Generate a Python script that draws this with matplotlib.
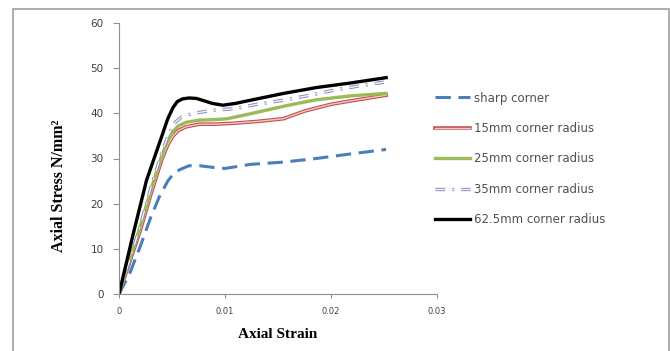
import numpy as np
import matplotlib
matplotlib.use("Agg")
import matplotlib.pyplot as plt
import matplotlib.patheffects as pe
from matplotlib.patches import Rectangle

# data (strain, stress N/mm2)
sharp_x = [0, 0.0010, 0.0020, 0.0030, 0.0038, 0.0046, 0.0052, 0.0058, 0.0066, 0.0076, 0.0090, 0.0100,
           0.0124, 0.0155, 0.0186, 0.0218, 0.0252]
sharp_y = [0, 4.5, 10.5, 17.0, 21.5, 25.0, 26.8, 27.6, 28.4, 28.4, 28.0, 27.8,
           28.7, 29.2, 30.0, 31.0, 32.0]

r15_x = [0, 0.0010, 0.0020, 0.0030, 0.0040, 0.0046, 0.0051, 0.0056, 0.0063, 0.0076, 0.0090, 0.0108,
         0.0130, 0.0155, 0.0175, 0.0200, 0.0225, 0.0252]
r15_y = [0, 7.0, 14.0, 22.0, 29.5, 33.0, 35.0, 36.2, 37.0, 37.6, 37.6, 37.8,
         38.2, 38.8, 40.5, 42.0, 43.0, 44.0]

r25_x = [0, 0.0010, 0.0020, 0.0030, 0.0040, 0.0046, 0.0051, 0.0056, 0.0063, 0.0076, 0.0090, 0.0102,
         0.0120, 0.0139, 0.0160, 0.0186, 0.0220, 0.0252]
r25_y = [0, 7.5, 14.9, 23.0, 30.4, 34.0, 36.0, 37.2, 38.0, 38.5, 38.6, 38.8,
         39.7, 40.7, 41.8, 43.0, 43.9, 44.4]

r35_x = [0, 0.0010, 0.0020, 0.0030, 0.0040, 0.0047, 0.0053, 0.0059, 0.0070, 0.0089, 0.0108, 0.0130,
         0.0155, 0.0180, 0.0202, 0.0225, 0.0250]
r35_y = [0, 7.5, 15.0, 23.5, 31.0, 35.5, 38.0, 39.2, 40.0, 40.7, 41.0, 42.0,
         42.9, 44.0, 45.1, 46.0, 46.9]

r62_x = [0, 0.00135, 0.0026, 0.0039, 0.0046, 0.0051, 0.0055, 0.0060, 0.0066, 0.0073, 0.0080, 0.0088,
         0.0098, 0.0110, 0.0124, 0.0155, 0.0186, 0.0218, 0.0252]
r62_y = [0, 13.4, 25.2, 34.0, 38.8, 41.3, 42.6, 43.2, 43.4, 43.3, 42.8, 42.2,
         41.8, 42.2, 42.9, 44.4, 45.7, 46.7, 47.9]

labels = ["sharp corner", "15mm corner radius", "25mm corner radius",
          "35mm corner radius", "62.5mm corner radius"]

fig = plt.figure(figsize=(6.7, 3.51), dpi=100)
fig.patches.append(Rectangle((13/670, -0.01), 656/670, (351-9)/351 + 0.01, transform=fig.transFigure,
                             fill=False, edgecolor="#a0a0a0", lw=1.2))

ax = fig.add_axes([119/670, (351-294)/351, (437-119)/670, (294-23)/351])

l1, = ax.plot(sharp_x, sharp_y, color="#4a7ebb", lw=2.2, dashes=(5, 2.5))
l2, = ax.plot(r15_x, r15_y, color="#f3c7c6", lw=1.0,
              path_effects=[pe.Stroke(linewidth=2.6, foreground="#c0504d"), pe.Normal()])
l3, = ax.plot(r25_x, r25_y, color="#9bbb59", lw=2.4)
l4, = ax.plot(r35_x, r35_y, color="#f4f4fa", lw=1.0, dashes=(7, 5, 1.5, 5),
              path_effects=[pe.Stroke(linewidth=2.4, foreground="#8a8ab8"), pe.Normal()])
l5, = ax.plot(r62_x, r62_y, color="black", lw=2.4)

ax.set_xlim(0, 0.03)
ax.set_ylim(0, 60)
ax.set_xticks([0, 0.01, 0.02, 0.03])
ax.set_xticklabels(["0", "0.01", "0.02", "0.03"])
ax.set_yticks(range(0, 61, 10))
for s in ["top", "right"]:
    ax.spines[s].set_visible(False)
for s in ["left", "bottom"]:
    ax.spines[s].set_color("#909090")
ax.tick_params(axis="x", colors="#909090", labelcolor="#404040", labelsize=6, length=3, pad=6)
ax.tick_params(axis="y", colors="#909090", labelcolor="#404040", labelsize=7.5, length=4, pad=7)

ax.set_xlabel("Axial Strain", family="Liberation Serif", fontweight="bold", fontsize=11, labelpad=9)
ax.set_ylabel("Axial Stress N/mm²", family="Liberation Serif", fontweight="bold", fontsize=11.5)
ax.yaxis.set_label_coords(-0.165, 0.40)

leg = fig.legend([l1, l2, l3, l4, l5], labels, loc="upper left", bbox_to_anchor=(424/670, 1 - 81/351),
                 frameon=False, fontsize=8.5, handlelength=3.0, handletextpad=0.3, labelspacing=1.47)
for t in leg.get_texts():
    t.set_color("#505050")

fig.savefig("out.png", dpi=100)
